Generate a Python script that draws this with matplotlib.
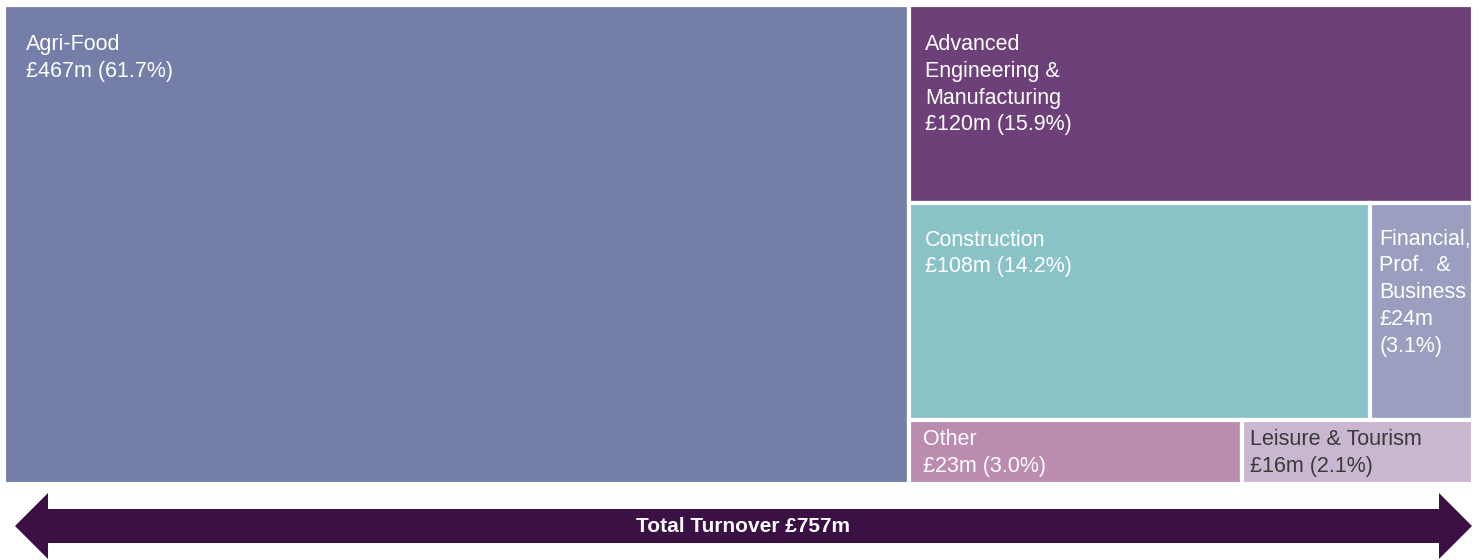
import matplotlib.pyplot as plt
from matplotlib.patches import Rectangle, Polygon

plt.rcParams['font.family'] = ['Liberation Sans', 'DejaVu Sans']

# sector turnover, £m
sectors = ['Agri-Food', 'Advanced Engineering & Manufacturing', 'Construction',
           'Financial, Prof. & Business', 'Other', 'Leisure & Tourism']
turnover = [467, 120, 108, 24, 23, 16]
shares = [61.7, 15.9, 14.2, 3.1, 3.0, 2.1]
labels = ['Agri-Food\n£467m (61.7%)',
          'Advanced\nEngineering &\nManufacturing\n£120m (15.9%)',
          'Construction\n£108m (14.2%)',
          'Financial,\nProf.  &\nBusiness\n£24m\n(3.1%)',
          'Other\n£23m (3.0%)',
          'Leisure & Tourism\n£16m (2.1%)']
total = 757

colors = ['#757ea8', '#6e4079', '#8ac3c7', '#9a9fc0', '#bb8bb0', '#c9b7d1']
text_colors = ['white', 'white', 'white', 'white', 'white', '#3a3a3a']
# label offset (dx, dy) from top-left corner of each tile
label_pad = [(22, 29), (16, 29), (16, 27), (9, 26), (14, 9), (8, 9)]

fig = plt.figure(figsize=(14.82, 5.6), dpi=100)
ax = fig.add_axes([0, 0, 1, 1])
ax.set_xlim(0, 1482)
ax.set_ylim(560, 0)
ax.axis('off')

x0, y0, x1, y1 = 4, 5, 1473, 484
gap = 3

# slice layout: first tile is a full-height column, remainder split into rows
W, H = x1 - x0, y1 - y0
rest = sum(turnover[1:])
wa = W * turnover[0] / sum(turnover)
tiles = [(x0, y0, wa, H)]
rows = [[1], [2, 3], [4, 5]]
rx, rw = x0 + wa, W - wa
ry = y0
for row in rows:
    rh = H * sum(turnover[i] for i in row) / rest
    cx = rx
    for i in row:
        cw = rw * turnover[i] / sum(turnover[j] for j in row)
        tiles.append((cx, ry, cw, rh))
        cx += cw
    ry += rh
order = [0] + [i for r in rows for i in r]

for k, i in enumerate(order):
    x, y, w, h = tiles[k]
    ax.add_patch(Rectangle((x, y), w, h, facecolor=colors[i],
                           edgecolor='white', linewidth=gap))
    dx, dy = label_pad[i]
    ax.text(x + dx, y + dy, labels[i], color=text_colors[i], fontsize=15.5,
            va='top', ha='left', linespacing=1.36)

# double-headed arrow for the total
ay, head_len, shaft, head = 526, 33, 17, 33
ax_l, ax_r = 15, 1472
arrow = Polygon([(ax_l, ay), (ax_l + head_len, ay - head), (ax_l + head_len, ay - shaft),
                 (ax_r - head_len, ay - shaft), (ax_r - head_len, ay - head), (ax_r, ay),
                 (ax_r - head_len, ay + head), (ax_r - head_len, ay + shaft),
                 (ax_l + head_len, ay + shaft), (ax_l + head_len, ay + head)],
                closed=True, facecolor='#3a1045', edgecolor='none')
ax.add_patch(arrow)
ax.text((ax_l + ax_r) / 2, ay, f'Total Turnover £{total}m', color='white',
        fontsize=15, fontweight='bold', ha='center', va='center')

fig.savefig('out.png', dpi=100)
